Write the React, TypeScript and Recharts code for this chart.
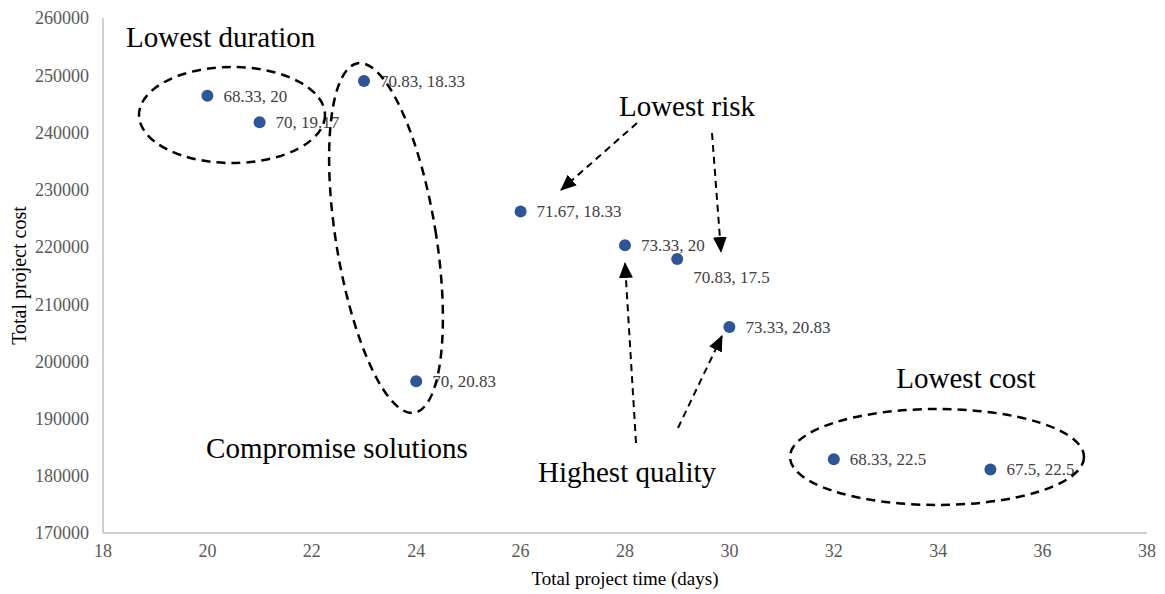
import React from "react";
import { ScatterChart, Scatter, XAxis, YAxis } from "recharts";

const xValues = [20, 21, 23, 24, 26, 28, 29, 30, 32, 35];
const yValues = [246400, 241800, 249000, 196500, 226200, 220300, 217900, 206000, 182900, 181100];
const pointLabels = [
  "68.33, 20",
  "70, 19.17",
  "70.83, 18.33",
  "70, 20.83",
  "71.67, 18.33",
  "73.33, 20",
  "70.83, 17.5",
  "73.33, 20.83",
  "68.33, 22.5",
  "67.5, 22.5",
];
const xTicks = [18, 20, 22, 24, 26, 28, 30, 32, 34, 36, 38];
const yTicks = [170000, 180000, 190000, 200000, 210000, 220000, 230000, 240000, 250000, 260000];

const data = xValues.map((x, i) => ({ x, y: yValues[i], label: pointLabels[i], below: i === 6 }));

const FONT = "'Liberation Serif', 'Times New Roman', serif";
const DOT = "#2F5597";

const PointShape = (props: any) => {
  const { cx, cy, payload } = props;
  if (cx == null || cy == null) return null;
  const below = payload && payload.below;
  return (
    <g>
      <circle cx={cx} cy={cy} r={6} fill={DOT} />
      <text
        x={cx + 16}
        y={below ? cy + 18 : cy}
        dy="0.35em"
        fontFamily={FONT}
        fontSize={17}
        fill="#404040"
      >
        {payload.label}
      </text>
    </g>
  );
};

const XTitle = (props: any) => {
  const vb = props.viewBox || {};
  return (
    <text x={vb.x + vb.width / 2} y={578} dy="0.35em" textAnchor="middle" fontFamily={FONT} fontSize={19} fill="#000">
      Total project time (days)
    </text>
  );
};

const YTitle = (props: any) => {
  const vb = props.viewBox || {};
  const cy = vb.y + vb.height / 2;
  return (
    <text
      x={19}
      y={cy}
      dy="0.35em"
      textAnchor="middle"
      transform={`rotate(-90 19 ${cy})`}
      fontFamily={FONT}
      fontSize={20}
      fill="#000"
    >
      Total project cost
    </text>
  );
};

const Overlay = () => (
  <svg
    width={1165}
    height={594}
    style={{ position: "absolute", left: 0, top: 0, pointerEvents: "none" }}
  >
    <defs>
      <marker id="ah" markerUnits="userSpaceOnUse" markerWidth="16" markerHeight="16" refX="15" refY="8" orient="auto">
        <path d="M0,1 L16,8 L0,15 Z" fill="#000" />
      </marker>
    </defs>
    <g fontFamily={FONT} fontSize={29} fill="#000">
      <text x={126} y={47}>Lowest duration</text>
      <text x={337} y={458} textAnchor="middle">Compromise solutions</text>
      <text x={687} y={116} textAnchor="middle">Lowest risk</text>
      <text x={627} y={482} textAnchor="middle">Highest quality</text>
      <text x={966} y={388} textAnchor="middle">Lowest cost</text>
    </g>
    <g fill="none" stroke="#000" strokeWidth={2.5} strokeDasharray="9 6">
      <ellipse cx={232} cy={115} rx={93} ry={48} />
      <ellipse cx={386} cy={238} rx={50} ry={177} transform="rotate(-9.2 386 238)" />
      <ellipse cx={937} cy={457} rx={147} ry={48} />
    </g>
    <g fill="none" stroke="#000" strokeWidth={2} strokeDasharray="7 5">
      <line x1={637} y1={123} x2={561} y2={190} markerEnd="url(#ah)" />
      <line x1={712} y1={133} x2={721} y2={252} markerEnd="url(#ah)" />
      <line x1={636} y1={443} x2={625} y2={263} markerEnd="url(#ah)" />
      <line x1={678} y1={428} x2={722} y2={336} markerEnd="url(#ah)" />
    </g>
  </svg>
);

export default function App() {
  return (
    <div style={{ position: "absolute", left: 0, top: 0, width: 1165, height: 594, background: "#fff" }}>
      <ScatterChart width={1165} height={594} margin={{ top: 18, right: 18, bottom: 6, left: 0 }}>
        <XAxis
          type="number"
          dataKey="x"
          domain={[18, 38]}
          ticks={xTicks}
          interval={0}
          height={55}
          tickSize={0}
          tickMargin={11}
          axisLine={{ stroke: "#BFBFBF", strokeWidth: 1.5 }}
          tick={{ fill: "#595959", fontFamily: FONT, fontSize: 18 }}
          label={{ content: XTitle }}
        />
        <YAxis
          type="number"
          dataKey="y"
          domain={[170000, 260000]}
          ticks={yTicks}
          interval={0}
          width={103}
          tickSize={0}
          tickMargin={14}
          axisLine={{ stroke: "#BFBFBF", strokeWidth: 1.5 }}
          tick={{ fill: "#595959", fontFamily: FONT, fontSize: 18 }}
          label={{ content: YTitle }}
        />
        <Scatter data={data} isAnimationActive={false} shape={PointShape} />
      </ScatterChart>
      <Overlay />
    </div>
  );
}
